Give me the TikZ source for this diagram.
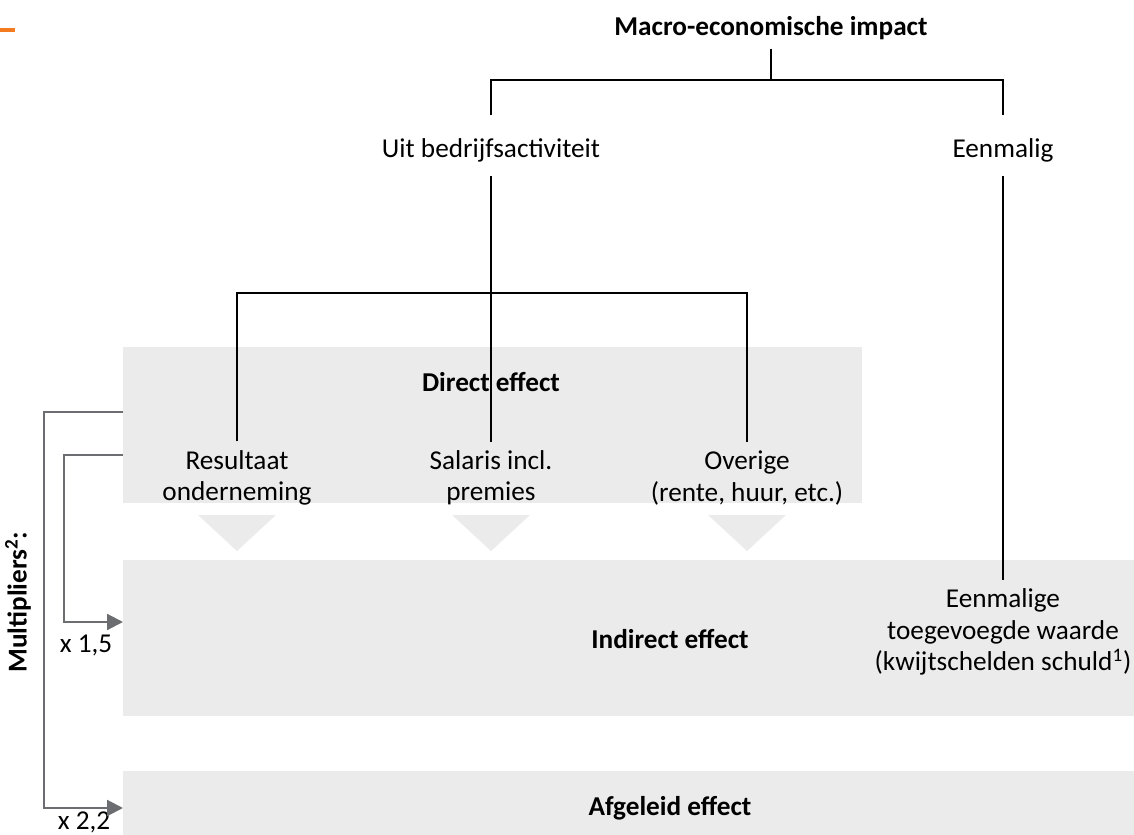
\documentclass[tikz,border=0pt]{standalone}
\usepackage{fontspec}
\setmainfont{Carlito}
\usetikzlibrary{positioning,arrows.meta}
\definecolor{boxgray}{HTML}{EBEBEB}
\definecolor{arrowgray}{HTML}{6B6D70}
\definecolor{accentorange}{HTML}{F47B20}

\begin{document}
\begin{tikzpicture}[x=0.02cm, y=-0.02cm,
	font=\fontsize{15.5}{17.8}\selectfont,
	panel/.style={fill=boxgray, draw=none},
	label/.style={align=center, inner sep=1pt},
	head/.style={label, font=\fontsize{15.5}{17.8}\selectfont\bfseries},
	tree/.style={draw=black, line width=0.6pt},
	mult/.style={draw=arrowgray, line width=1.2pt, -{Triangle[length=9pt, width=9pt]}}]
	\useasboundingbox (0,0) rectangle (1134,835);
	\draw[accentorange, line width=2pt] (0,30) -- (15,30);
	% grey panels
	\fill[panel] (123,347) rectangle (862,503);
	\fill[panel] (123,560) rectangle (1134,716);
	\fill[panel] (123,771) rectangle (1134,835);
	\foreach \x in {237,491,747}
		\fill[panel] (\x-39,515) -- (\x+39,515) -- (\x,551) -- cycle;
	% texts
	\node[head] (macro) at (771,28) {Macro-economische impact};
	\node[label] (uit) at (491,150) {Uit bedrijfsactiviteit};
	\node[label] (eenmalig) at (1003,150) {Eenmalig};
	\node[head] (direct) at (491,382) {Direct effect};
	\node[label] (resultaat) at (237,478) {Resultaat\\onderneming};
	\node[label] (salaris) at (491,478) {Salaris incl.\\premies};
	\node[label] (overige) at (747,478) {Overige\\(rente, huur, etc.)};
	\node[head] (indirect) at (670,639) {Indirect effect};
	\node[label] (eenmalige) at (1003,632) {Eenmalige\\toegevoegde waarde\\(kwijtschelden schuld\textsuperscript{1})};
	\node[head] (afgeleid) at (670,808) {Afgeleid effect};
	\node[head, rotate=90] (multipliers) at (18,602) {Multipliers\textsuperscript{2}:};
	\node[label] (x15) at (86,645) {x 1,5};
	\node[label] (x22) at (84,822) {x 2,2};
	% tree
	\coordinate (hub) at (771,80);
	\coordinate (split) at (491,293);
	\draw[tree] ([yshift=-4pt]macro.south) -- (hub);
	\draw[tree] ([yshift=12pt]uit.north) |- (hub) -| ([yshift=12pt]eenmalig.north);
	\draw[tree] ([yshift=-7pt]uit.south) -- ([yshift=4pt]salaris.north);
	\draw[tree] ([yshift=4pt]resultaat.north) |- (split) -| ([yshift=4pt]overige.north);
	\draw[tree] ([yshift=-7pt]eenmalig.south) -- ([yshift=4pt]eenmalige.north);
	% multipliers
	\coordinate (outA) at (123,412);
	\coordinate (outB) at (123,455);
	\coordinate (inB) at (123,622);
	\coordinate (inA) at (123,808);
	\draw[mult] (outA) -- (44,412) |- (inA);
	\draw[mult] (outB) -- (64,455) |- (inB);
\end{tikzpicture}
\end{document}
